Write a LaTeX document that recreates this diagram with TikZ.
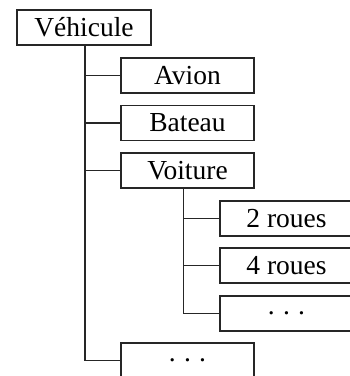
\documentclass[tikz,border=0pt]{standalone}
\usepackage{fontspec}
\setmainfont{Liberation Serif}
\newcommand{\mydots}{.\hspace{0.3em}.\hspace{0.3em}.}
\begin{document}
\begin{tikzpicture}[x=1pt,y=-1pt,line width=1.6pt,
  box/.style={draw=black!85,rectangle,minimum width=133pt,minimum height=35pt,inner sep=0pt,
    font=\fontsize{27.5}{30}\selectfont,anchor=center},
  link/.style={draw=black!85,line width=1.6pt}]
\useasboundingbox (0,0) rectangle (350,376);
\clip (0,0) rectangle (350,376);
\node[box,minimum width=134pt] (root) at (84,27.5) {Véhicule};
\node[box] (avion) at (187.5,75.5) {Avion};
\node[box] (bateau) at (187.5,123) {Bateau};
\node[box] (voiture) at (187.5,170.5) {Voiture};
\node[box] (autre) at (187.5,360.5) {\mydots};
\node[box] (deux) at (286.5,218.5) {2 roues};
\node[box] (quatre) at (286.5,265.5) {4 roues};
\node[box] (autrev) at (286.5,313.5) {\mydots};
\coordinate (t1) at (85,0);
\coordinate (t2) at (183.5,0);
\path[link] (t1 |- root.south) |- (avion.west);
\path[link] (t1 |- root.south) |- (bateau.west);
\path[link] (t1 |- root.south) |- (voiture.west);
\path[link] (t1 |- root.south) |- (autre.west);
\path[link] (t2 |- voiture.south) |- (deux.west);
\path[link] (t2 |- voiture.south) |- (quatre.west);
\path[link] (t2 |- voiture.south) |- (autrev.west);
\end{tikzpicture}
\end{document}
